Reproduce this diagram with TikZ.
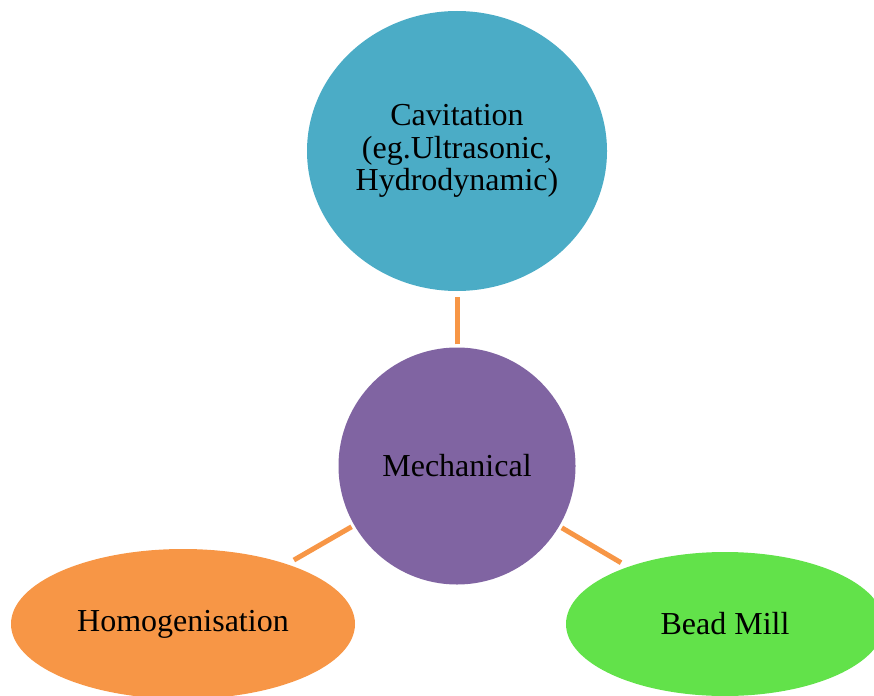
\documentclass[tikz,border=0pt]{standalone}
\usepackage{fontspec}
\setmainfont{Liberation Serif}
\usepackage{tikz}
\usetikzlibrary{shapes.geometric}

\definecolor{cavblue}{HTML}{4BACC6}
\definecolor{mechpurple}{HTML}{8064A2}
\definecolor{homorange}{HTML}{F79646}
\definecolor{beadgreen}{HTML}{62E24A}

\tikzset{
  bubble/.style={ellipse,inner sep=0pt,align=center,text=black,
    font=\fontsize{32}{32.5}\selectfont},
  link/.style={color=homorange,line width=5pt},
}

\begin{document}
\begin{tikzpicture}[x=1pt,y=-1pt]
      \useasboundingbox (0,0) rectangle (874,695);

      % Mechanical
      \node [bubble,fill=mechpurple,minimum width=237pt,minimum height=237pt] (mech) at (457,466) {Mechanical};

      % Cavitation
      \node [bubble,fill=cavblue,minimum width=300pt,minimum height=280pt] (cav) at (457,151) {Cavitation\\(eg.Ultrasonic,\\Hydrodynamic)};

      % Homogenisation
      \node [bubble,fill=homorange,minimum width=344pt,minimum height=150pt] (homog) at (183,624) {Homogenisation};

      % Bead Mill
      \node [bubble,fill=beadgreen,minimum width=318pt,minimum height=144pt] (bead) at (725,624) {Bead Mill};

      % links
      \draw [link,shorten <=3pt,shorten >=6pt] (mech) -- (cav);
      \draw [link,shorten <=3pt,shorten >=8pt] (mech) -- (homog);
      \draw [link,shorten <=3pt,shorten >=8pt] (mech) -- (bead);
    \end{tikzpicture}
\end{document}
